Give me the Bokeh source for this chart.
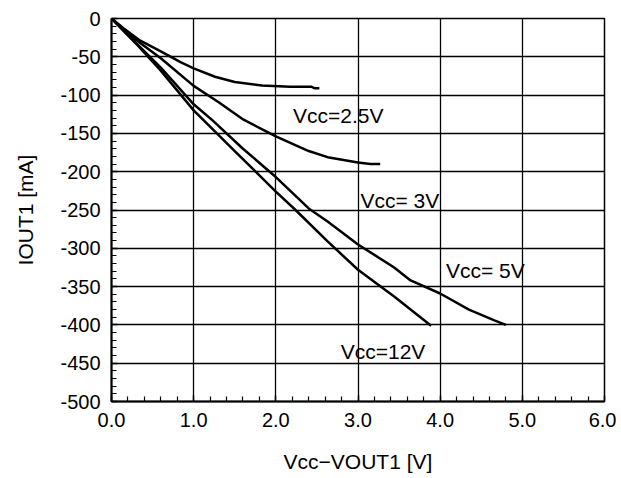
from bokeh.plotting import figure
from bokeh.models import Range1d, FixedTicker, Label
from bokeh.embed import file_html
from bokeh.resources import INLINE

# ---- data ----
x_ticks = [0, 1, 2, 3, 4, 5, 6]
x_tick_labels = ["0.0", "1.0", "2.0", "3.0", "4.0", "5.0", "6.0"]
x_minor = [0.2, 0.4, 0.6, 0.8, 1.2, 1.4, 1.6, 1.8, 2.2, 2.4, 2.6, 2.8,
           3.2, 3.4, 3.6, 3.8, 4.2, 4.4, 4.6, 4.8, 5.2, 5.4, 5.6, 5.8]
y_ticks = [0, -50, -100, -150, -200, -250, -300, -350, -400, -450, -500]
y_tick_labels = ["0", "-50", "-100", "-150", "-200", "-250", "-300", "-350", "-400", "-450", "-500"]
y_minor = [v for v in range(0, -501, -10)]

vcc25_x = [0.0, 0.15, 0.35, 0.6, 0.84, 1.0, 1.26, 1.5, 1.83, 2.17, 2.43, 2.47, 2.53]
vcc25_y = [0.0, -13, -29, -43, -57, -65, -76, -83, -87.5, -89, -89, -91, -91]

vcc3_x = [0.0, 0.15, 0.3, 0.6, 1.0, 1.3, 1.59, 2.0, 2.4, 2.63, 3.0, 3.15, 3.27]
vcc3_y = [0.0, -14, -28, -52, -88, -109, -131, -154, -173, -181, -188, -190, -190]

vcc5_x = [0.0, 0.3, 0.6, 1.0, 1.23, 1.6, 2.0, 2.4, 2.63, 3.0, 3.44, 3.64, 4.0, 4.35, 4.66, 4.8]
vcc5_y = [0.0, -32, -64, -112, -133, -170, -207, -248, -265, -295, -325, -342, -359, -380, -394, -400]

vcc12_x = [0.0, 0.3, 0.6, 1.0, 1.5, 2.0, 2.24, 2.63, 3.0, 3.44, 3.89]
vcc12_y = [0.0, -33, -68, -120, -173, -226, -250, -291, -328, -363, -401]

label_text = ["Vcc=2.5V", "Vcc= 3V", "Vcc= 5V", "Vcc=12V"]
label_x = [2.21, 3.03, 4.07, 2.79]
label_y = [-127, -238, -329, -435]

FONT = "Liberation Sans"

p = figure(frame_width=493, frame_height=383,
           x_range=Range1d(0, 6), y_range=Range1d(-500, 0),
           output_backend="svg", toolbar_location=None,
           min_border_left=111, min_border_top=18,
           min_border_right=12, min_border_bottom=77,
           background_fill_color="white", border_fill_color="white")

p.xaxis.ticker = FixedTicker(ticks=x_ticks, minor_ticks=x_minor)
p.yaxis.ticker = FixedTicker(ticks=y_ticks, minor_ticks=y_minor)
p.xaxis.major_label_overrides = dict(zip(x_ticks, x_tick_labels))
p.yaxis.major_label_overrides = dict(zip(y_ticks, y_tick_labels))

for ax in (p.xaxis[0], p.yaxis[0]):
    ax.major_tick_in = 6
    ax.major_tick_out = 0
    ax.minor_tick_in = 5
    ax.minor_tick_out = 0
    ax.axis_line_color = "black"
    ax.axis_line_width = 2
    ax.major_tick_line_color = "black"
    ax.major_tick_line_width = 1.5
    ax.minor_tick_line_color = "black"
    ax.minor_tick_line_width = 1.2
    ax.major_label_text_font = FONT
    ax.major_label_text_font_size = "20px"
    ax.major_label_text_color = "black"
    ax.axis_label_text_font = FONT
    ax.axis_label_text_font_size = "21px"
    ax.axis_label_text_font_style = "normal"
    ax.axis_label_text_color = "black"
    ax.major_label_standoff = 11

p.xaxis.axis_label = "Vcc\u2212VOUT1 [V]"
p.yaxis.axis_label = "IOUT1 [mA]"
p.xaxis.axis_label_standoff = 20
p.yaxis.axis_label_standoff = 20

p.xgrid.grid_line_color = "black"
p.xgrid.grid_line_width = 1.3
p.ygrid.grid_line_color = "black"
p.ygrid.grid_line_width = 1.3
p.outline_line_color = "black"
p.outline_line_width = 1.5

for xs, ys in ((vcc25_x, vcc25_y), (vcc3_x, vcc3_y), (vcc5_x, vcc5_y), (vcc12_x, vcc12_y)):
    p.line(xs, ys, line_color="black", line_width=2.5)

for t, lx, ly in zip(label_text, label_x, label_y):
    p.add_layout(Label(x=lx, y=ly, text=t, text_font=FONT, text_font_size="21px",
                       text_color="black", text_baseline="alphabetic", text_align="left"))

open("out.html", "w").write(file_html(p, INLINE))
